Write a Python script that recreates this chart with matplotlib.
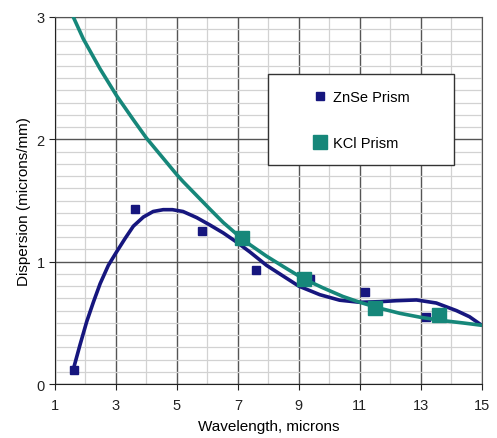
import matplotlib.pyplot as plt
from matplotlib.lines import Line2D
from matplotlib.patches import Rectangle

plt.rcParams['font.family'] = ['Liberation Sans', 'DejaVu Sans']

# measured points
znse_x = [1.62, 3.62, 5.81, 7.59, 9.36, 11.16, 13.16]
znse_y = [0.115, 1.43, 1.25, 0.93, 0.86, 0.755, 0.545]
kcl_x = [7.15, 9.17, 11.49, 13.6]
kcl_y = [1.19, 0.86, 0.62, 0.565]

# smoothed curves
znse_curve_x = [1.60, 1.82, 2.04, 2.26, 2.48, 2.75, 3.02, 3.30, 3.57, 3.90, 4.22, 4.55,
                4.85, 5.2, 5.65, 6.08, 6.52, 6.96, 7.39, 7.94, 8.5, 9.0, 9.69, 10.34,
                11.0, 11.66, 12.2, 12.86, 13.51, 14.17, 14.6, 15.0]
znse_curve_y = [0.12, 0.32, 0.51, 0.67, 0.82, 0.97, 1.08, 1.19, 1.29, 1.365, 1.41, 1.425,
                1.425, 1.41, 1.36, 1.30, 1.235, 1.16, 1.08, 0.97, 0.88, 0.80, 0.73, 0.685,
                0.668, 0.673, 0.681, 0.687, 0.662, 0.60, 0.55, 0.48]
kcl_curve_x = [1.60, 1.93, 2.48, 3.02, 3.57, 4.0, 4.55, 5.0, 5.2, 5.65, 6.08, 6.52, 6.96,
               7.39, 7.94, 8.49, 9.14, 9.80, 10.45, 11.0, 11.66, 12.31, 13.0, 13.73, 14.39, 15.0]
kcl_curve_y = [3.0, 2.82, 2.575, 2.357, 2.16, 2.01, 1.845, 1.71, 1.655, 1.54, 1.43, 1.32, 1.225,
               1.14, 1.045, 0.96, 0.862, 0.785, 0.715, 0.668, 0.619, 0.578, 0.545, 0.518, 0.499, 0.48]

x_ticks = [1, 3, 5, 7, 9, 11, 13, 15]
y_ticks = [0, 1, 2, 3]

navy = '#16167e'
teal = '#16877a'

fig = plt.figure(figsize=(4.97, 4.39), dpi=100)
ax = fig.add_axes([0.1107, 0.123, 0.8585, 0.836])

# grid
ax.set_xticks(x_ticks)
ax.set_yticks(y_ticks)
ax.set_xticks(range(2, 15, 2), minor=True)
ax.set_yticks([i / 10 for i in range(1, 30) if i % 10], minor=True)
ax.grid(which='minor', color='#d2d2d2', lw=0.9)
ax.grid(which='major', color='#555555', lw=1.0)
ax.set_axisbelow(True)
ax.tick_params(which='minor', length=0)
ax.tick_params(which='major', length=4, direction='out', labelsize=10.5, colors='#222222')
ax.tick_params(axis='x', pad=6)

ax.plot(znse_curve_x, znse_curve_y, color=navy, lw=2.6, solid_capstyle='round',
        solid_joinstyle='round', zorder=3)
ax.plot(znse_x, znse_y, 's', color=navy, ms=6, zorder=4)
ax.plot(kcl_curve_x, kcl_curve_y, color=teal, lw=2.6, solid_capstyle='round',
        solid_joinstyle='round', zorder=5)
ax.plot(kcl_x, kcl_y, 's', color=teal, ms=10, zorder=6)

ax.set_xlim(1, 15)
ax.set_ylim(0, 3)
for s in ax.spines.values():
    s.set_color('#555555')
ax.spines['left'].set_color('#222222')
ax.spines['bottom'].set_color('#222222')

ax.set_xlabel('Wavelength, microns', fontsize=11, labelpad=5)
ax.set_ylabel('Dispersion (microns/mm)', fontsize=11, labelpad=4)

# legend box
ax.add_patch(Rectangle((0.499, 0.597), 0.436, 0.248, transform=ax.transAxes,
                       facecolor='white', edgecolor='#333333', lw=1.0, zorder=9))
handles = [Line2D([], [], ls='none', marker='s', color=navy, ms=6),
           Line2D([], [], ls='none', marker='s', color=teal, ms=10)]
leg = ax.legend(handles, ['ZnSe Prism', 'KCl Prism'], loc='upper left',
                bbox_to_anchor=(0.605, 0.80), fontsize=10.5, frameon=False,
                borderaxespad=0, borderpad=0, handletextpad=0.35, labelspacing=2.2,
                handlelength=1.0)
leg.set_zorder(10)

fig.savefig('out.png', dpi=100)
